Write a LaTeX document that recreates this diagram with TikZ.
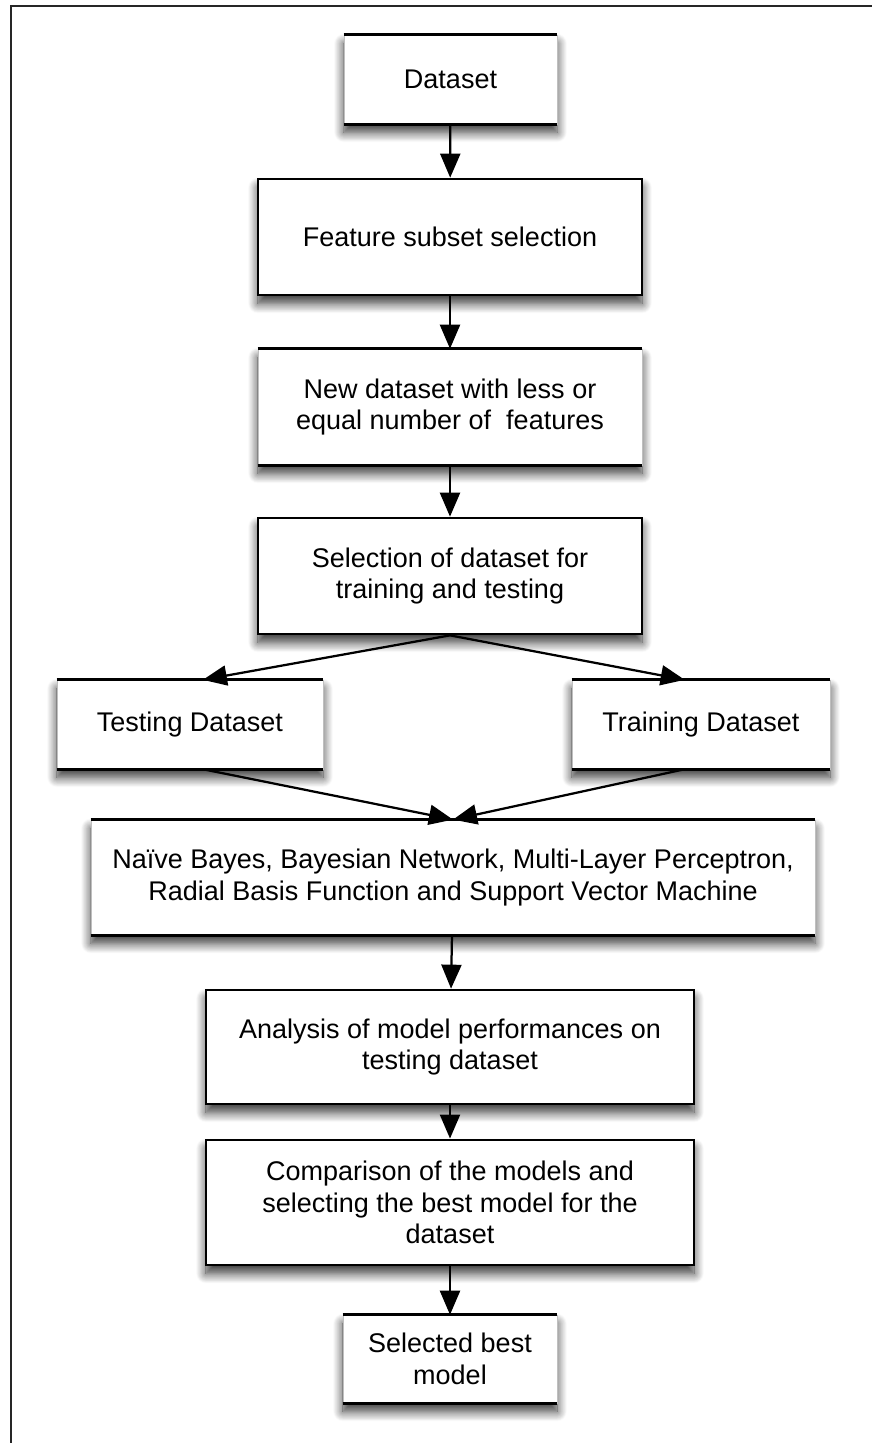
\documentclass[tikz,border=0pt]{standalone}
\usepackage{fontspec}
\setmainfont{Liberation Sans}
\usetikzlibrary{arrows.meta, positioning, shadows.blur}
\tikzset{
    box/.style={rectangle, fill=white, draw=black, line width=1.9pt, minimum width=9.6cm, minimum height=2.9cm, align=center, inner sep=0pt, font=\fontsize{19.2}{22.6}\selectfont, blur shadow={shadow xshift=0pt, shadow yshift=-6pt, shadow blur radius=7pt, shadow blur steps=12, shadow opacity=80}},
    rim/.style={draw=black, line width=1.9pt},
    openbox/.style={box, draw=black!25, line width=0.4pt, append after command={(\tikzlastnode.north west) edge[rim] (\tikzlastnode.north east) (\tikzlastnode.south west) edge[rim] (\tikzlastnode.south east)}},
    arrow/.style={-{Triangle[length=0.6cm, width=0.5cm]}, line width=1.6pt},
    frameline/.style={line width=0.8pt, black!85},
}
\begin{document}
\begin{tikzpicture}[x=0.025cm, y=-0.025cm]
    \useasboundingbox (0,0) rectangle (872,1443);
    \draw[frameline] (11,1443) -- (11,6) -- (872,6);

    \node[openbox, minimum width=5.33cm, minimum height=2.22cm] (dataset) at (450.5,79.5) {Dataset};
    \node[box] (feature) at (450,237) {Feature subset selection};
    \node[openbox] (newdata) at (450,407) {New dataset with less or\\equal number of~ features};
    \node[box] (select) at (450,576) {Selection of dataset for\\training and testing};
    \node[openbox, minimum width=6.65cm, minimum height=2.22cm] (testing) at (190,724.5) {Testing Dataset};
    \node[openbox, minimum width=6.45cm, minimum height=2.22cm] (training) at (701,724.5) {Training Dataset};
    \node[openbox, minimum width=18.1cm, minimum height=2.88cm] (models) at (453,877.5) {Naïve Bayes, Bayesian Network, Multi-Layer Perceptron,\\Radial Basis Function and Support Vector Machine};
    \node[box, minimum width=12.2cm, minimum height=2.85cm] (analysis) at (450,1047) {Analysis of model performances on\\testing dataset};
    \node[box, minimum width=12.2cm, minimum height=3.13cm] (compare) at (450,1202.5) {Comparison of the models and\\selecting the best model for the\\dataset};
    \node[openbox, minimum width=5.35cm, minimum height=2.2cm] (best) at (450,1359) {Selected best\\model};

    \draw[arrow] (dataset) -- (feature);
    \draw[arrow] (feature) -- (newdata);
    \draw[arrow] (newdata) -- (select);
    \draw[arrow] (select.south) -- (testing.74);
    \draw[arrow] (select.south) -- (training.110);
    \draw[arrow] (testing.286) -- (models.north);
    \draw[arrow] (training.250) -- (models.north);
    \draw[arrow] (models) -- (analysis);
    \draw[arrow] (analysis) -- (compare);
    \draw[arrow] (compare) -- (best);
\end{tikzpicture}
\end{document}
